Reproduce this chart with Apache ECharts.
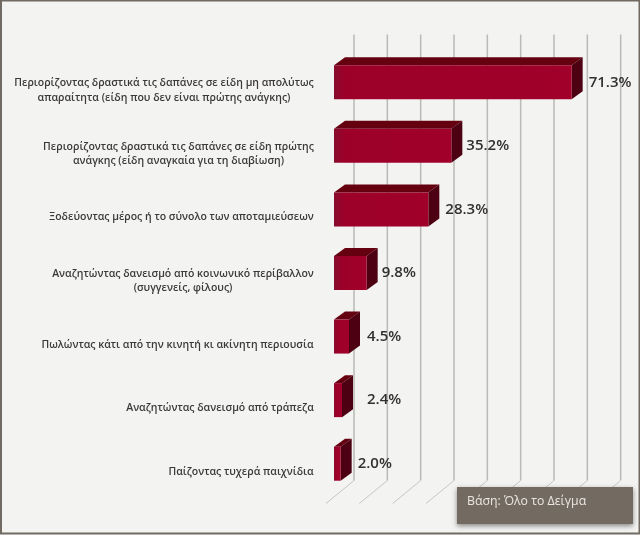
<!DOCTYPE html>
<html>
<head>
<meta charset="utf-8">
<style>
  html, body { margin: 0; padding: 0; background: #fff; }
  #chart { width: 640px; height: 535px; }
</style>
</head>
<body>
<div id="chart"></div>
<script src="https://cdn.jsdelivr.net/npm/echarts@6/dist/echarts.min.js"></script>
<script>
const categories = [
  'Περιορίζοντας δραστικά τις δαπάνες σε είδη μη απολύτως\nαπαραίτητα (είδη που δεν είναι πρώτης ανάγκης)',
  'Περιορίζοντας δραστικά τις δαπάνες σε είδη πρώτης\nανάγκης (είδη αναγκαία για τη διαβίωση)',
  'Ξοδεύοντας μέρος ή το σύνολο των αποταμιεύσεων',
  'Αναζητώντας δανεισμό από κοινωνικό περίβαλλον\n(συγγενείς, φίλους)',
  'Πωλώντας κάτι από την κινητή κι ακίνητη περιουσία',
  'Αναζητώντας δανεισμό από τράπεζα',
  'Παίζοντας τυχερά παιχνίδια'
];
const values = [71.3, 35.2, 28.3, 9.8, 4.5, 2.4, 2.0];
const gridTicks = [0, 10, 20, 30, 40, 50, 60, 70, 80];
const baseNote = 'Βάση: Όλο το Δείγμα';

// value label gaps differ a little in the original
const labelGaps = [6, 4, 6, 4, 7, 14, 6];

const labelFont = '600 10.5px "Open Sans"';
const wallDx = 28, wallDy = 23, wallTop = 24;   // back wall offset from the floor front
const barInset = 8, barLift = 8, barHeight = 34; // bar front face relative to axis position
const depthX = 11, depthY = 8;

// multi-line labels: block is right aligned, lines are centered inside it
const measure = document.createElement('canvas').getContext('2d');
measure.font = labelFont;
const labelRich = {};
categories.forEach((c, i) => {
  const w = Math.max(...c.split('\n').map(l => measure.measureText(l).width));
  labelRich['c' + i] = { width: Math.ceil(w), align: 'center', lineHeight: 14.5,
    fontFamily: 'Open Sans', fontWeight: 600, fontSize: 10.5, color: '#3c3a38' };
});

function renderWall(params, api) {
  const x = api.coord([api.value(0), 0])[0];
  const g = params.coordSys;
  const backX = x + wallDx, backBottom = g.y + g.height - wallDy;
  return {
    type: 'group',
    children: [
      { type: 'line', shape: { x1: backX, y1: g.y - wallTop, x2: backX, y2: backBottom },
        style: { stroke: '#b9b9b5', lineWidth: 1.5 } },
      { type: 'line', shape: { x1: backX, y1: backBottom, x2: x, y2: g.y + g.height },
        style: { stroke: '#c6c6c2', lineWidth: 1 } }
    ]
  };
}

function renderBar(params, api) {
  const end = api.coord([api.value(0), api.value(1)]);
  const start = api.coord([0, api.value(1)]);
  const x0 = start[0] + barInset, x1 = end[0] + barInset;
  const y0 = end[1] - barLift - barHeight / 2, y1 = y0 + barHeight;
  return {
    type: 'group',
    children: [
      { type: 'polygon', shape: { points: [[x0, y0], [x0 + depthX, y0 - depthY], [x1 + depthX, y0 - depthY], [x1, y0]] },
        style: { fill: '#64000f' } },
      { type: 'polygon', shape: { points: [[x1, y0], [x1 + depthX, y0 - depthY], [x1 + depthX, y1 - depthY], [x1, y1]] },
        style: { fill: '#4c0011' } },
      { type: 'rect', shape: { x: x0, y: y0, width: x1 - x0, height: barHeight },
        style: { fill: new echarts.graphic.LinearGradient(0, 0, 1, 0, [
          { offset: 0, color: '#860d2c' }, { offset: Math.min(0.25, 10 / (x1 - x0)), color: '#9c0029' }, { offset: 1, color: '#a0002a' }
        ]) } },
      { type: 'text', x: x1 + depthX + labelGaps[params.dataIndex], y: y0 + barHeight / 2,
        style: { text: api.value(0).toFixed(1) + '%', fill: '#333130', fontFamily: 'Open Sans',
          fontWeight: 600, fontSize: 15, verticalAlign: 'middle', align: 'left' } }
    ]
  };
}

const chart = echarts.init(document.getElementById('chart'));
chart.setOption({
  animation: false,
  backgroundColor: '#fff',
  grid: { left: 326, top: 58.5, width: 300, height: 445, outerBoundsMode: 'none' },
  xAxis: { type: 'value', min: 0, max: 90, show: false },
  yAxis: {
    type: 'category',
    inverse: true,
    data: categories,
    axisLine: { show: false },
    axisTick: { show: false },
    axisLabel: {
      margin: 12,
      align: 'right',
      rich: labelRich,
      formatter: (v, i) => v.split('\n').map(l => '{c' + i + '|' + l + '}').join('\n')
    }
  },
  graphic: [
    { type: 'rect', z: -10, shape: { x: 1, y: 0.5, width: 638.5, height: 533 },
      style: { fill: '#f3f3f1', stroke: '#716a63', lineWidth: 2 } },
    { type: 'rect', z: 10, shape: { x: 457, y: 487, width: 176, height: 37 },
      style: { fill: '#736a62', shadowBlur: 5, shadowColor: 'rgba(0,0,0,0.45)', shadowOffsetY: 2 } },
    { type: 'text', z: 11, x: 467, y: 501,
      style: { text: baseNote, fill: '#ebe7e2', fontFamily: 'Open Sans', fontSize: 12.3, verticalAlign: 'middle' } }
  ],
  series: [
    { type: 'custom', z: 1, silent: true, renderItem: renderWall, data: gridTicks.map(t => [t]), encode: { x: 0 } },
    { type: 'custom', z: 2, silent: true, renderItem: renderBar, data: values.map((v, i) => [v, i]), encode: { x: 0, y: 1 } }
  ]
});
</script>
</body>
</html>
